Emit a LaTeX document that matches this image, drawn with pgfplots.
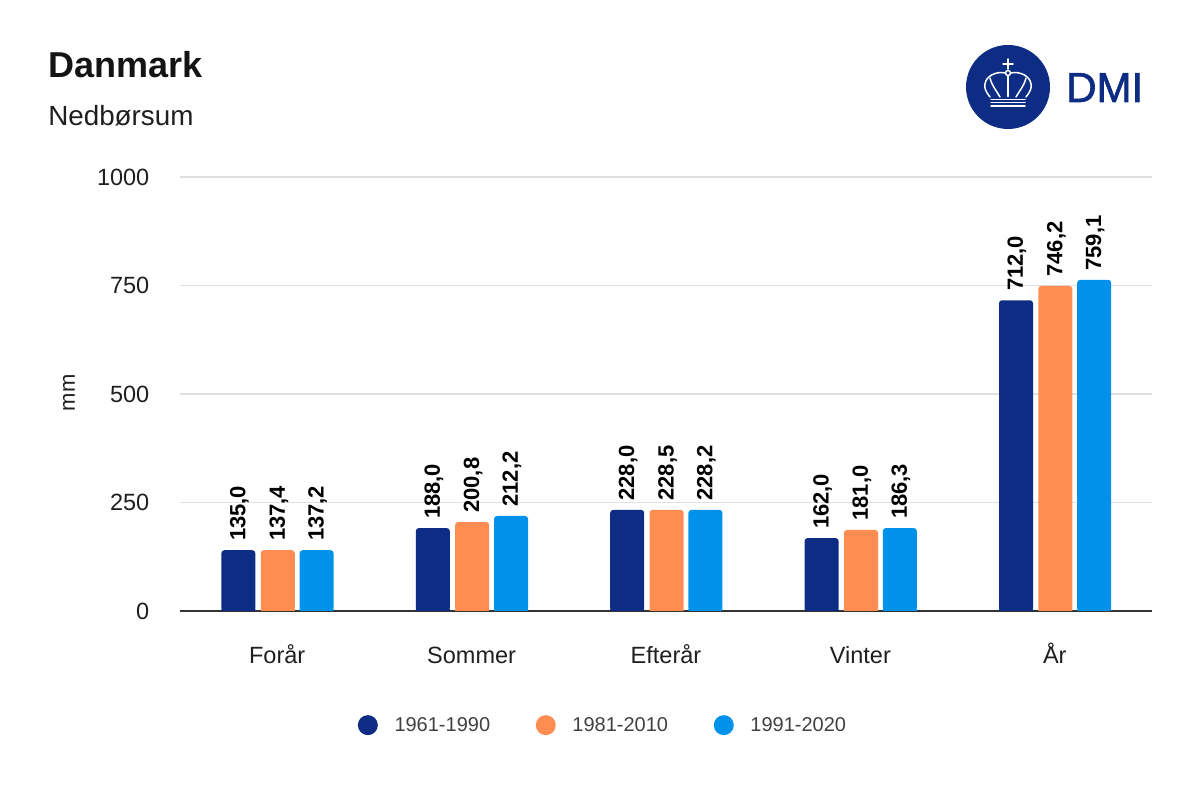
\documentclass[border=0pt]{standalone}
\usepackage{fontspec}
\usepackage{pgfplots}
\usepackage{pgfplotstable}
\pgfplotsset{compat=1.18}
\setmainfont{Liberation Sans}
\newfontfamily\dmifont[FakeBold=1.5]{Liberation Sans}
\newlength\px
\setlength\px{0.75pt}
\newcommand\pxfont[1]{\fontsize{\fpeval{#1*0.75}pt}{\fpeval{#1*0.9}pt}\selectfont}
\definecolor{navy}{HTML}{0D2C84}
\definecolor{orange}{HTML}{FF8D52}
\definecolor{sky}{HTML}{0091EA}
\definecolor{gridc}{HTML}{E0E0E0}
% bar heights as drawn in the picture, label as printed
\pgfplotstableread{
x y lab
0 140 135,0
1 191 188,0
2 233 228,0
3 168 162,0
4 716 712,0
}\first
\pgfplotstableread{
x y lab
0 140 137,4
1 205 200,8
2 233 228,5
3 187 181,0
4 749 746,2
}\second
\pgfplotstableread{
x y lab
0 140 137,2
1 219 212,2
2 233 228,2
3 191 186,3
4 763 759,1
}\third
\pgfplotstableread{
x y
0 5
1 5
2 5
3 5
4 5
}\foot
\begin{document}
\begin{tikzpicture}[x=1pt,y=1pt]
\path[use as bounding box] (0,0) rectangle (1200\px,800\px);
\begin{axis}[
    at={(180\px,189\px)},
    anchor=south west,
    scale only axis,
    width=972\px,
    height=434\px,
    xmin=-0.5, xmax=4.5,
    ymin=0, ymax=1000,
    xtick={0,1,2,3,4},
    xticklabels={Forår,Sommer,Efterår,Vinter,År},
    ytick={0,250,500,750,1000},
    major tick length=0pt,
    axis x line*=bottom,
    axis y line*=left,
    x axis line style={draw=black!80,line width=1.5\px,-},
    y axis line style={draw=none},
    ymajorgrids,
    grid style={gridc,line width=1.8\px},
    /pgf/number format/assume math mode=true,
    /pgf/number format/set thousands separator={},
    ticklabel style={font=\pxfont{23.5},text=black!88},
    yticklabel style={xshift=-26\px},
    xticklabel style={anchor=base,yshift=-52\px},
    ybar,
    bar width=34\px,
    legend columns=3,
    legend style={
        at={(0.4355,-0.263)},anchor=center,draw=none,fill=none,
        font=\pxfont{20},text=black!75,
        /tikz/every even column/.append style={column sep=43\px},
        /tikz/every odd column/.append style={column sep=14\px},
    },
    legend image code/.code={\fill[#1] (0,0) circle (10\px);},
    every node near coord/.append style={
        rotate=90,anchor=west,font=\pxfont{22}\bfseries,text=black,
        inner xsep=0pt,xshift=9\px,yshift=-1\px,
    },
]
\addplot[draw=none,fill=navy,rounded corners=3\px,bar shift=-38.8\px,
    nodes near coords,point meta=explicit symbolic] table[x=x,y=y,meta=lab] {\first};
\addlegendentry{1961-1990}
\addplot[draw=none,fill=orange,rounded corners=3\px,bar shift=0.6\px,
    nodes near coords,point meta=explicit symbolic] table[x=x,y=y,meta=lab] {\second};
\addlegendentry{1981-2010}
\addplot[draw=none,fill=sky,rounded corners=3\px,bar shift=39.4\px,
    nodes near coords,point meta=explicit symbolic] table[x=x,y=y,meta=lab] {\third};
\addlegendentry{1991-2020}
% square off the bottom of the rounded bars
\addplot[forget plot,draw=none,fill=navy,bar shift=-38.8\px] table[x=x,y=y] {\foot};
\addplot[forget plot,draw=none,fill=orange,bar shift=0.6\px] table[x=x,y=y] {\foot};
\addplot[forget plot,draw=none,fill=sky,bar shift=39.4\px] table[x=x,y=y] {\foot};
\end{axis}
% titles
\node[anchor=base west,inner sep=0pt,text=black!92] at (48\px,722\px) {\pxfont{36}\bfseries Danmark};
\node[anchor=base west,inner sep=0pt,text=black!88] at (48\px,674\px) {\pxfont{27.8}Nedbørsum};
\node[rotate=90,inner sep=0pt,text=black!88] at (69\px,407\px) {\pxfont{22}mm};
% logo
\fill[navy] (1008\px,713\px) circle (42\px);
\node[anchor=base west,inner sep=0pt,text=navy] at (1066\px,698\px) {\pxfont{42}\dmifont DMI};
\begin{scope}[draw=white,line width=1.5\px,line cap=round]
\draw (1008\px,741\px) -- (1008\px,731\px);
\draw (1003\px,736\px) -- (1013\px,736\px);
\draw (1008\px,727\px) circle (2.5\px);
\draw (1008\px,724.5\px) -- (1008\px,703.5\px);
% left lobes
\draw (990\px,703\px) .. controls (986\px,708\px) and (984\px,712\px) .. (985\px,716\px)
      .. controls (986\px,724\px) and (996\px,729\px) .. (1005.5\px,727\px);
\draw (1000\px,703\px) .. controls (996\px,710\px) and (992\px,714\px) .. (990\px,722\px);
% right lobes
\draw (1026\px,703\px) .. controls (1030\px,708\px) and (1032\px,712\px) .. (1031\px,716\px)
      .. controls (1030\px,724\px) and (1020\px,729\px) .. (1010.5\px,727\px);
\draw (1016\px,703\px) .. controls (1020\px,710\px) and (1024\px,714\px) .. (1026\px,722\px);
% band
\draw (991\px,700.7\px) -- (1025\px,700.7\px);
\draw (991\px,697.3\px) -- (1025\px,697.3\px);
\draw (991\px,694\px) -- (1025\px,694\px);
\end{scope}
\end{tikzpicture}
\end{document}
